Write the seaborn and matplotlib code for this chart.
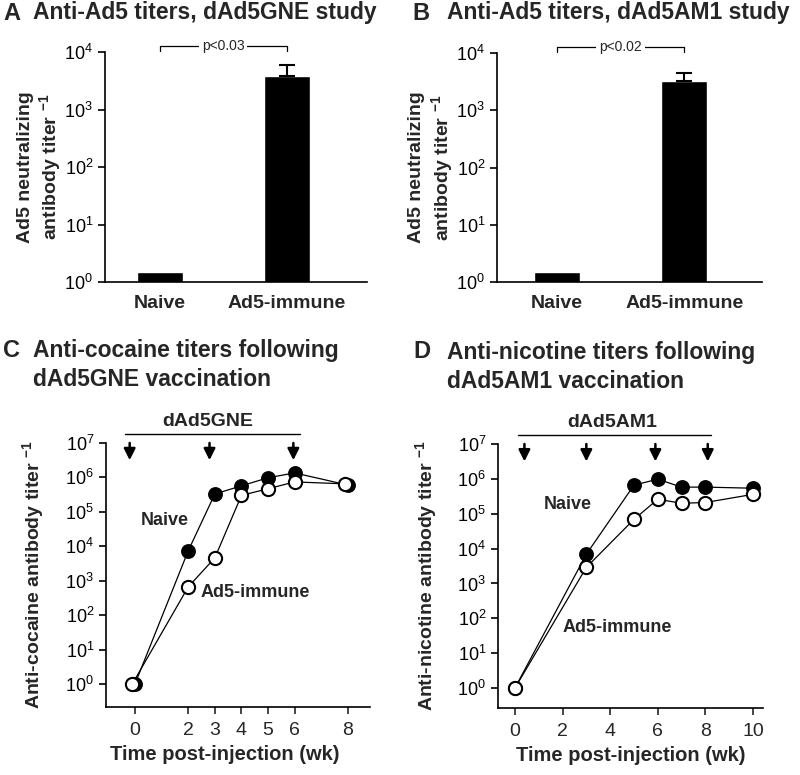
import matplotlib
matplotlib.use("Agg")
import matplotlib.pyplot as plt
from matplotlib.ticker import FixedLocator, FuncFormatter, NullLocator
import numpy as np
import seaborn as sns

# --- data ---
groups = ["Naive", "Ad5-immune"]
titer_A = [1.5, 3800]
err_A = [0, 2100]
titer_B = [1.5, 3250]
err_B = [0, 1200]

weeks_C = [0, 2, 3, 4, 5, 6, 8]
weeks_C_imm = [-0.1, 2, 3, 4, 5, 6, 7.9]
naive_C = [1, 7400, 3.3e5, 5.7e5, 9.8e5, 1.35e6, 6.0e5]
immune_C = [1, 660, 4600, 3.0e5, 4.7e5, 7.4e5, 6.5e5]
arrows_C = [-0.2, 2.8, 5.95]

weeks_D = [0, 3, 5, 6, 7, 8, 10]
naive_D = [1, 6900, 6.6e5, 9.8e5, 5.8e5, 5.8e5, 5.4e5]
immune_D = [1, 2900, 6.9e4, 2.6e5, 2.0e5, 2.1e5, 3.6e5]
arrows_D = [0.4, 3.0, 5.9, 8.1]

sns.set_style("ticks")
plt.rcParams["font.family"] = ["Liberation Sans", "DejaVu Sans"]
plt.rcParams["axes.linewidth"] = 1.2
plt.rcParams["axes.edgecolor"] = "black"

fig = plt.figure(figsize=(8, 7.75), dpi=100)
W, H = 800, 775


def px_axes(x0, x1, y0, y1):
    return fig.add_axes([x0 / W, 1 - y1 / H, (x1 - x0) / W, (y1 - y0) / H])


def log_ticks(ax, top):
    ax.set_yscale("log")
    ax.yaxis.set_major_locator(FixedLocator([10.0 ** k for k in range(0, top + 1)]))
    ax.yaxis.set_minor_locator(NullLocator())
    ax.yaxis.set_major_formatter(FuncFormatter(
        lambda v, p: r"$\mathdefault{10^{%d}}$" % round(np.log10(v))))
    ax.tick_params(axis="y", direction="out", length=5, width=1.2,
                   labelsize=13, colors="black")
    sns.despine(ax=ax)


def bar_panel(ax, vals, errs, ptxt, xlim):
    sns.barplot(x=groups, y=vals, ax=ax, color="black", saturation=1,
                width=0.36, errorbar=None)
    # only the Ad5-immune bar carries an (upper) error bar
    ax.errorbar([1], [vals[1]], yerr=[[0], [errs[1]]], fmt="none",
                ecolor="black", elinewidth=1.5, capsize=6, capthick=1.5)
    log_ticks(ax, 4)
    ax.set_ylim(1, 1e4)
    ax.set_xlim(*xlim)
    ax.tick_params(axis="x", length=0, pad=9)
    for lab in ax.get_xticklabels():
        lab.set_fontsize(14)
        lab.set_fontweight("bold")
    ax.set_ylabel("Ad5 neutralizing\nantibody titer $^{\\mathdefault{-1}}$",
                  fontsize=14, fontweight="bold", linespacing=1.2)
    tr = ax.get_xaxis_transform()
    ax.plot([0, 0, 1, 1], [1.005, 1.026, 1.026, 1.005], color="black",
            lw=0.9, transform=tr, clip_on=False)
    ax.text(0.5, 1.026, ptxt, transform=tr, ha="center", va="center",
            fontsize=10, bbox=dict(facecolor="white", edgecolor="none", pad=2))


axA = px_axes(105, 367, 52, 282)
bar_panel(axA, titer_A, err_A, "p<0.03", (-0.43, 1.63))
axA.yaxis.set_label_coords(-0.155, 0.5)

axB = px_axes(497, 762, 53, 282)
bar_panel(axB, titer_B, err_B, "p<0.02", (-0.47, 1.61))
axB.yaxis.set_label_coords(-0.155, 0.5)


def line_panel(ax, wk_n, n, wk_i, im, arrows, span, drug, textx, xlim, ylo,
               xticks, ylabel, naive_xy, imm_xy):
    sns.lineplot(x=wk_n, y=n, ax=ax, color="black", lw=0.9, marker="o",
                 markersize=9.5, markerfacecolor="black",
                 markeredgecolor="black", markeredgewidth=1.2)
    sns.lineplot(x=wk_i, y=im, ax=ax, color="black", lw=0.9, marker="o",
                 markersize=9.5, markerfacecolor="white",
                 markeredgecolor="black", markeredgewidth=1.5)
    log_ticks(ax, 7)
    ax.set_ylim(ylo, 1e7)
    ax.set_xlim(*xlim)
    ax.set_xticks(xticks)
    ax.tick_params(axis="x", direction="out", length=5, width=1.2,
                   labelsize=14, pad=6)
    for x in arrows:
        ax.annotate("", xy=(x, 10 ** 6.5), xytext=(x, 10 ** 7.0),
                    arrowprops=dict(arrowstyle="-|>", color="black", lw=1.8,
                                    mutation_scale=17, shrinkA=0, shrinkB=0))
    tr = ax.get_xaxis_transform()
    ax.plot(span, [1.034, 1.034], color="black", lw=1.0, transform=tr,
            clip_on=False)
    ax.text(textx, 1.08, drug, transform=tr, ha="center", va="center",
            fontsize=14, fontweight="bold")
    ax.text(*naive_xy, "Naive", ha="center", va="center", fontsize=13,
            fontweight="bold")
    ax.text(*imm_xy, "Ad5-immune", ha="center", va="center", fontsize=13,
            fontweight="bold")
    ax.set_ylabel(ylabel + " $^{\\mathdefault{-1}}$", fontsize=14,
                  fontweight="bold")
    ax.set_xlabel("Time post-injection (wk)", fontsize=14.5,
                  fontweight="bold")


axC = px_axes(106, 370, 443, 707)
line_panel(axC, weeks_C, naive_C, weeks_C_imm, immune_C, arrows_C,
           [-0.38, 6.2], "dAd5GNE", 2.75, (-1.09, 8.83), 10 ** -0.67,
           [0, 2, 3, 4, 5, 6, 8], "Anti-cocaine antibody titer",
           (1.13, 10 ** 4.74), (4.5, 10 ** 2.65))
axC.yaxis.set_label_coords(-0.222, 0.5)
axC.xaxis.set_label_coords(0.45, -0.145)

axD = px_axes(498, 763, 444, 708)
line_panel(axD, weeks_D, naive_D, weeks_D, immune_D, arrows_D,
           [0.13, 8.24], "dAd5AM1", 4.1, (-0.71, 10.42), 10 ** -0.57,
           [0, 2, 4, 6, 8, 10], "Anti-nicotine antibody titer",
           (2.23, 10 ** 5.27), (4.29, 10 ** 1.75))
axD.yaxis.set_label_coords(-0.217, 0.5)
axD.xaxis.set_label_coords(0.5, -0.145)

# panel letters and titles
TS = 16.5


def title(letter, lx, ly, tx, ty, text):
    fig.text(lx / W, 1 - ly / H, letter, ha="left", va="center",
             fontsize=17, fontweight="bold")
    fig.text(tx / W, 1 - ty / H, text, ha="left", va="center",
             fontsize=TS, fontweight="bold", linespacing=1.3)


title("A", 3, 13, 33, 13, "Anti-Ad5 titers, dAd5GNE study")
title("B", 412, 13, 447, 13, "Anti-Ad5 titers, dAd5AM1 study")
title("C", 3, 350, 33, 365, "Anti-cocaine titers following\ndAd5GNE vaccination")
title("D", 413, 352, 447, 367, "Anti-nicotine titers following\ndAd5AM1 vaccination")

fig.savefig("out.png", dpi=100, facecolor="white")
